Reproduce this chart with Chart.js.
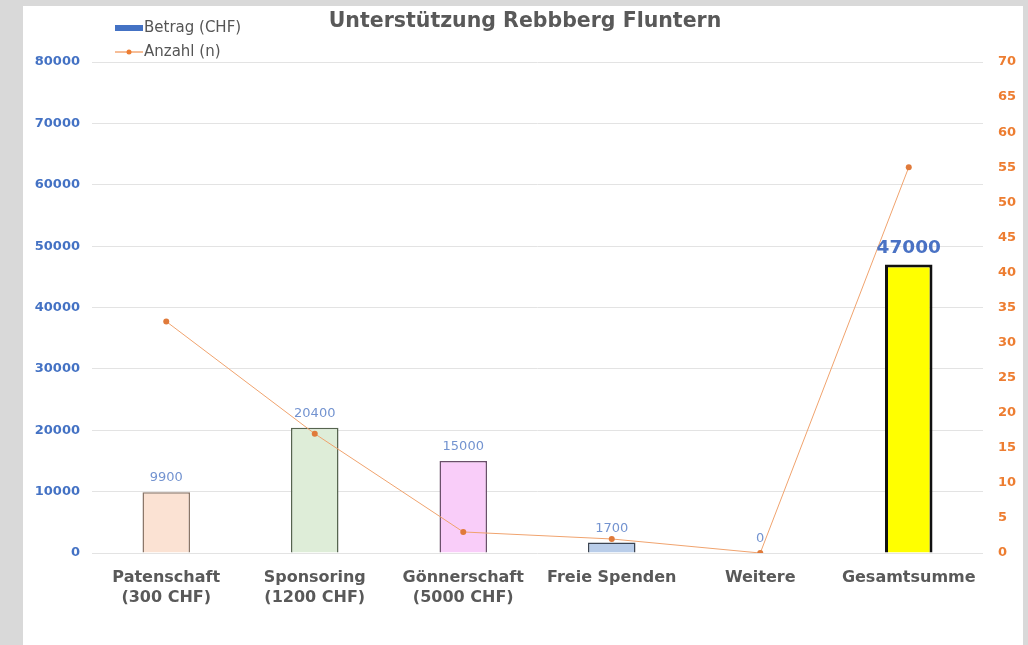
<!DOCTYPE html>
<html>
<head>
<meta charset="utf-8">
<script src="https://cdn.jsdelivr.net/npm/chart.js@4"></script>
<style>
  html,body{margin:0;padding:0;background:#d9d9d9;width:1028px;height:645px;overflow:hidden;}
  #card{position:absolute;left:23px;top:6px;width:1000px;height:639px;background:#fff;}
  #card canvas{display:block;}
</style>
</head>
<body>
<div id="card"><canvas id="c" width="1000" height="639"></canvas></div>
<script>
/* Unterstützung Rebbberg Fluntern — bars (CHF) + line (count) */
const CATEGORIES = [["Patenschaft","(300 CHF)"],["Sponsoring","(1200 CHF)"],["Gönnerschaft","(5000 CHF)"],"Freie Spenden","Weitere","Gesamtsumme"];
const BETRAG = [9900, 20400, 15000, 1700, 0, 47000];
const ANZAHL = [33, 17, 3, 2, 0, 55];
const LEFT_TICKS = {min:0, max:80000, step:10000};
const RIGHT_TICKS = {min:0, max:70, step:5};

const BAR_FILL   = ["#fbe2d3","#deedd8","#f9cdf9","#b9cde9","#b9cde9","#ffff00"];
const BAR_BORDER = ["#8a7668","#56644f","#6a4f6a","#3b4452","#3b4452","#111111"];
const BAR_BW     = [1.5,1.5,1.5,1.5,1.5,3];

const FONT = "'DejaVu Sans', 'Liberation Sans', sans-serif";

// value labels above bars + title + legend, drawn on canvas
const decorPlugin = {
  id:"decor",
  afterDatasetsDraw(chart){
    const ctx = chart.ctx;
    const meta = chart.getDatasetMeta(1);
    ctx.save();
    ctx.textAlign = "center";
    ctx.textBaseline = "alphabetic";
    meta.data.forEach((bar, i) => {
      const last = i === BETRAG.length - 1;
      ctx.font = last ? "bold 18.5px " + FONT : "13px " + FONT;
      ctx.fillStyle = last ? "#4a72c4" : "#7393d0";
      ctx.fillText(String(BETRAG[i]), bar.x, bar.y - (last ? 12 : 11));
    });
    ctx.restore();
  },
  afterDraw(chart){
    const ctx = chart.ctx;
    ctx.save();
    // title
    ctx.font = "bold 20.5px " + FONT;
    ctx.fillStyle = "#595959";
    ctx.textAlign = "center";
    ctx.textBaseline = "middle";
    ctx.fillText("Unterstützung Rebbberg Fluntern", 502, 16);
    // legend
    ctx.textAlign = "left";
    ctx.font = "15px " + FONT;
    ctx.fillStyle = "#4472c4";
    ctx.fillRect(92, 19, 28, 6);
    ctx.fillStyle = "#555555";
    ctx.fillText("Betrag (CHF)", 121, 22);
    ctx.strokeStyle = "#ed7d31";
    ctx.lineWidth = 1;
    ctx.beginPath(); ctx.moveTo(92, 46); ctx.lineTo(120, 46); ctx.stroke();
    ctx.fillStyle = "#ed7d31";
    ctx.beginPath(); ctx.arc(106, 46, 2.5, 0, Math.PI*2); ctx.fill();
    ctx.fillStyle = "#555555";
    ctx.fillText("Anzahl (n)", 121, 46);
    ctx.restore();
  }
};

new Chart(document.getElementById("c"), {
  data:{
    labels: CATEGORIES,
    datasets:[
      { type:"line", label:"Anzahl (n)", data:ANZAHL, yAxisID:"y1", order:0,
        borderColor:"#f0a36e", backgroundColor:"#e07a3a", borderWidth:1, tension:0,
        pointRadius:3, pointBorderWidth:0, pointBackgroundColor:"#e07a3a" },
      { type:"bar", label:"Betrag (CHF)", data:BETRAG, yAxisID:"y", order:1,
        backgroundColor:BAR_FILL, borderColor:BAR_BORDER, borderWidth:BAR_BW,
        categoryPercentage:1, barPercentage:0.32 }
    ]
  },
  options:{
    responsive:false, animation:false,
    layout:{ padding:{ top:56, left:0, right:0, bottom:0 } },
    plugins:{ legend:{display:false}, title:{display:false}, tooltip:{enabled:false} },
    scales:{
      x:{
        grid:{display:false}, border:{display:false},
        ticks:{ color:"#595959", font:{family:FONT, size:16, weight:"bold", lineHeight:1.25}, padding:7, maxRotation:0, autoSkip:false },
        afterFit(s){ s.height = 92; }
      },
      y:{
        position:"left", min:LEFT_TICKS.min, max:LEFT_TICKS.max,
        grid:{ color:"#e3e3e3", lineWidth:1, drawTicks:false }, border:{display:false},
        ticks:{ stepSize:LEFT_TICKS.step, color:"#4472c4", padding:12, font:{family:FONT, size:13, weight:"bold"},
          callback:(v)=>String(v) },
        afterFit(s){ s.width = 69; }
      },
      y1:{
        position:"right", min:RIGHT_TICKS.min, max:RIGHT_TICKS.max,
        grid:{ display:false, drawTicks:false }, border:{display:false},
        ticks:{ stepSize:RIGHT_TICKS.step, color:"#ed7d31", padding:15, font:{family:FONT, size:13, weight:"bold"},
          callback:(v)=>String(v) },
        afterFit(s){ s.width = 40; }
      }
    }
  },
  plugins:[decorPlugin]
});
</script>
</body>
</html>
